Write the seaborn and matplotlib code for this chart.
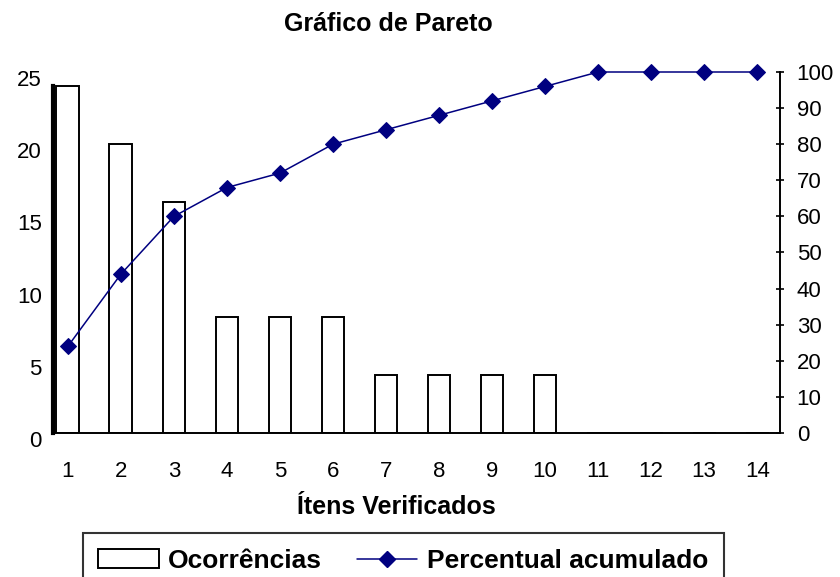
import numpy as np
import pandas as pd
from matplotlib import pyplot as plt
from matplotlib.lines import Line2D
from matplotlib.patches import Patch
from matplotlib.transforms import ScaledTranslation
import seaborn as sns

# dados do gráfico
itens = [1, 2, 3, 4, 5, 6, 7, 8, 9, 10, 11, 12, 13, 14]
ocorrencias = [24, 20, 16, 8, 8, 8, 4, 4, 4, 4, 0, 0, 0, 0]
percentual_acumulado = [24, 44, 60, 68, 72, 80, 84, 88, 92, 96, 100, 100, 100, 100]

df = pd.DataFrame({"item": itens, "ocorr": ocorrencias, "acum": percentual_acumulado})

sns.set_style("white")
plt.rcParams['font.family'] = ['Liberation Sans', 'DejaVu Sans']
plt.rcParams['text.color'] = 'black'
plt.rcParams['xtick.color'] = 'black'
plt.rcParams['ytick.color'] = 'black'
plt.rcParams['axes.labelcolor'] = 'black'

fig = plt.figure(figsize=(8.4, 5.77), dpi=100)
ax = fig.add_axes([53 / 840, 1 - 433 / 577, (780 - 53) / 840, (433 - 72) / 577])

sns.barplot(data=df, x="item", y="ocorr", native_scale=True, width=0.43,
            color="white", edgecolor="black", linewidth=1.4, ax=ax)
ax.set_xlim(0.72, 14.43)
ax.set_ylim(0, 25)
ax.set_yticks(range(0, 26, 5))
ax.set_xticks(itens)
ax.set_xticks(np.arange(1.5, 14, 1), minor=True)
ax.tick_params(axis="x", which="major", length=0, pad=20, labelsize=16)
ax.tick_params(axis="x", which="minor", length=6, width=1.2, direction="inout")
ax.tick_params(axis="y", length=0, pad=8, labelsize=16)
# rótulos do eixo esquerdo ficam um pouco abaixo, como no original
offset = ScaledTranslation(0, -6 / 100, fig.dpi_scale_trans)
for lbl in ax.get_yticklabels():
    lbl.set_transform(lbl.get_transform() + offset)
ax.set_xlabel("Ítens Verificados", fontsize=18, fontweight="bold")
ax.xaxis.set_label_coords(0.472, -0.172)
ax.set_ylabel("")
for s in ["top", "right"]:
    ax.spines[s].set_visible(False)
ax.spines["left"].set_linewidth(3)
ax.spines["left"].set_color("black")
ax.spines["left"].set_bounds(0, ocorrencias[0])
ax.spines["bottom"].set_linewidth(1.4)
ax.spines["bottom"].set_color("black")

ax2 = ax.twinx()
sns.lineplot(data=df, x="item", y="acum", color="#000080", marker="D", markersize=8,
             markeredgecolor="#000080", linewidth=1.1, clip_on=False, ax=ax2)
ax2.set_ylim(0, 100)
ax2.set_yticks(range(0, 101, 10))
ax2.tick_params(axis="y", length=6, width=1.2, direction="inout", pad=9, labelsize=16)
ax2.set_ylabel("")
for s in ["top", "left", "bottom"]:
    ax2.spines[s].set_visible(False)
ax2.spines["right"].set_linewidth(1.4)
ax2.spines["right"].set_color("black")

fig.text(0.462, 1 - 24 / 577, "Gráfico de Pareto", ha="center", va="center",
         fontsize=18, fontweight="bold")

handles = [Patch(facecolor="white", edgecolor="black", linewidth=1.4),
           Line2D([], [], color="#000080", marker="D", markersize=8, linewidth=1.1)]
leg = fig.legend(handles, ["Ocorrências", "Percentual acumulado"], loc="upper center",
                 bbox_to_anchor=(0.480, 1 - 533 / 577), ncol=2, frameon=True, fancybox=False,
                 prop={"size": 19, "weight": "bold"}, handlelength=2.3, handleheight=0.7,
                 handletextpad=0.35, columnspacing=1.3, borderpad=0.6, borderaxespad=0)
leg.get_frame().set_edgecolor("black")
leg.get_frame().set_linewidth(1.5)

fig.savefig("out.png", dpi=100)
